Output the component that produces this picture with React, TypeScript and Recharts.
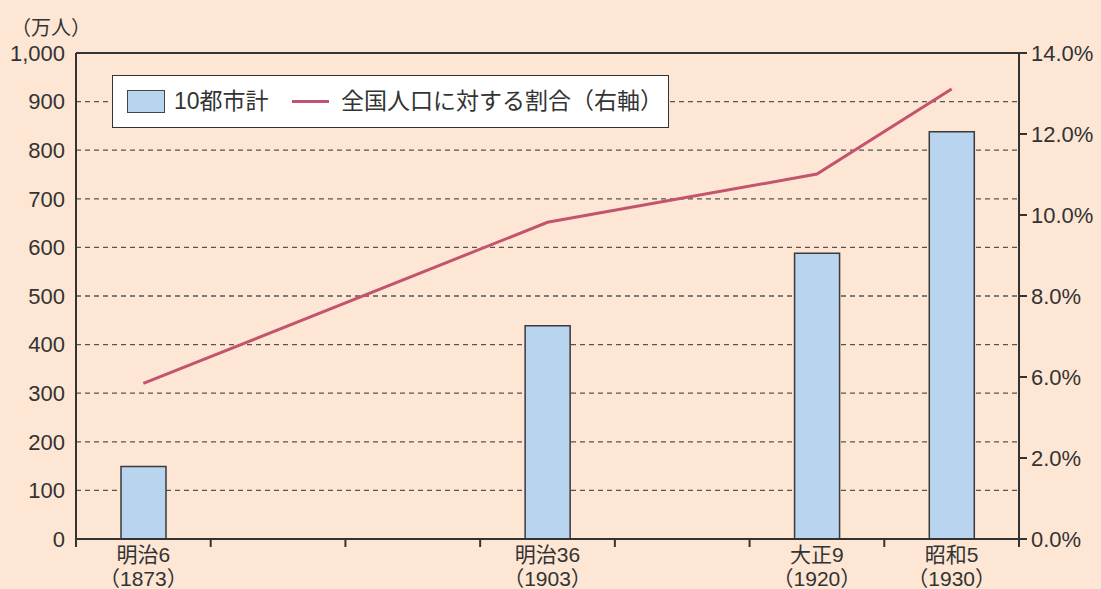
import {
    ComposedChart, Bar, Line, XAxis, YAxis, CartesianGrid,
    Legend, ReferenceLine,
} from 'recharts'

// 7 equal slots on the x axis, only four of them hold data
const periods = ['明治6', '', '', '明治36', '', '大正9', '昭和5']
const seireki = ['（1873）', '', '', '（1903）', '', '（1920）', '（1930）']
const population = [149, null, null, 439, null, 588, 838]   // 万人
const share = [5.84, null, null, 9.82, null, 11.01, 13.11]  // %

const leftTicks = [0, 100, 200, 300, 400, 500, 600, 700, 800, 900, 1000]
const rightTicks = [2, 4, 6, 8, 10, 12, 14]
const rightTickLabels = ['0.0%', '2.0%', '6.0%', '8.0%', '10.0%', '12.0%', '14.0%']

const BG = '#fde6d4'
const BAR = '#b8d4ee'
const LINE = '#c4546e'
const INK = '#333333'
const FONT = "'Liberation Sans', 'Noto Sans CJK JP', sans-serif"

const data = periods.map((p, i) => ({
    slot: i + 0.5,
    periodo: p,
    poblacion: population[i],
    proporcion: share[i],
}))

const xTicks = [
    ...periods.map((_, i) => i),
    periods.length,
    ...periods.map((p, i) => (p ? i + 0.5 : null)).filter((v) => v !== null),
]

const XTick = ({ x, y, payload }: any) => {
    const v = payload.value as number
    if (Number.isInteger(v)) {
        return <line x1={x} x2={x} y1={y} y2={y + 8} stroke={INK} strokeWidth={2} />
    }
    const i = v - 0.5
    return (
        <g>
            <text x={x} y={y + 23} textAnchor="middle" fontSize={21} fill={INK} fontFamily={FONT}>
                {periods[i]}
            </text>
            <text x={x} y={y + 47} textAnchor="middle" fontSize={21} fill={INK} fontFamily={FONT}>
                {seireki[i]}
            </text>
        </g>
    )
}

const Leyenda = () => (
    <div
        style={{
            position: 'relative', boxSizing: 'border-box', width: 557, height: 53,
            background: '#ffffff', border: `1.5px solid ${INK}`,
            fontFamily: FONT, fontSize: 23, color: INK, lineHeight: '50px',
        }}
    >
        <div style={{ position: 'absolute', left: 14, top: 14, boxSizing: 'border-box', width: 38, height: 23, background: BAR, border: `1.5px solid #444` }} />
        <span style={{ position: 'absolute', left: 61, top: 0 }}>10都市計</span>
        <div style={{ position: 'absolute', left: 179, top: 24, width: 37, height: 3, background: LINE }} />
        <span style={{ position: 'absolute', left: 228, top: 0, whiteSpace: 'nowrap' }}>全国人口に対する割合（右軸）</span>
    </div>
)

export default function App() {
    return (
        <div style={{ position: 'relative', width: 1101, height: 589, background: BG, fontFamily: FONT }}>
            <style>{'body{margin:0}'}</style>
            <div style={{ position: 'absolute', left: 11, top: 12, fontSize: 20, color: INK }}>（万人）</div>
            <ComposedChart width={1101} height={589} data={data} margin={{ top: 53, right: 0, bottom: 0, left: 0 }}>
                <CartesianGrid yAxisId="left" vertical={false} stroke="#555" strokeDasharray="5 4" strokeWidth={1.3} />
                <XAxis
                    dataKey="slot"
                    type="number"
                    domain={[0, periods.length]}
                    ticks={xTicks}
                    interval={0}
                    height={50}
                    axisLine={{ stroke: INK, strokeWidth: 2 }}
                    tickLine={false}
                    tickSize={0}
                    tickMargin={0}
                    tick={<XTick />}
                />
                <YAxis
                    yAxisId="left"
                    width={76}
                    domain={[0, 1000]}
                    ticks={leftTicks}
                    interval={0}
                    tickFormatter={(v: number) => v.toLocaleString('en-US')}
                    axisLine={{ stroke: INK, strokeWidth: 2 }}
                    tickLine={false}
                    tickSize={0}
                    tickMargin={11}
                    tick={{ fill: INK, fontSize: 22, fontFamily: FONT }}
                />
                <YAxis
                    yAxisId="right"
                    orientation="right"
                    width={82}
                    domain={[2, 14]}
                    ticks={rightTicks}
                    interval={0}
                    tickFormatter={(_: number, i: number) => rightTickLabels[i]}
                    axisLine={{ stroke: INK, strokeWidth: 2 }}
                    tickLine={{ stroke: INK, strokeWidth: 2 }}
                    tickSize={8}
                    tickMargin={4}
                    tick={{ fill: INK, fontSize: 22, fontFamily: FONT, textAnchor: 'start' }}
                />
                <ReferenceLine yAxisId="left" y={1000} stroke={INK} strokeWidth={2} />
                <Legend
                    layout="horizontal"
                    verticalAlign="middle"
                    content={<Leyenda />}
                    wrapperStyle={{ top: 75, left: 112, width: 557, height: 53 }}
                />
                <Bar
                    yAxisId="left"
                    dataKey="poblacion"
                    name="10都市計"
                    barSize={45}
                    fill={BAR}
                    stroke="#3a3a3a"
                    strokeWidth={1.5}
                    isAnimationActive={false}
                />
                <Line
                    yAxisId="right"
                    dataKey="proporcion"
                    name="全国人口に対する割合（右軸）"
                    type="linear"
                    stroke={LINE}
                    strokeWidth={3}
                    dot={false}
                    connectNulls
                    isAnimationActive={false}
                />
            </ComposedChart>
        </div>
    )
}
